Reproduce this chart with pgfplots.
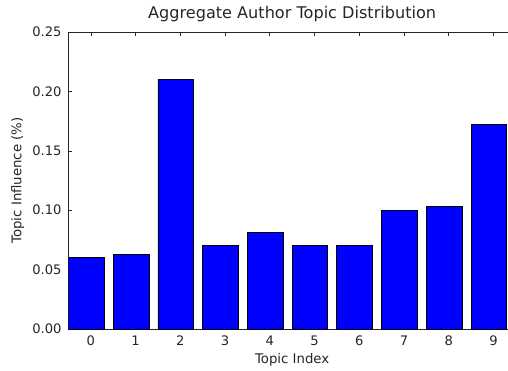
\documentclass[border=0pt]{standalone}
\usepackage{pgfplots}
\pgfplotsset{compat=1.18}
\usepackage{fontspec}
\setmainfont{DejaVu Sans}

\definecolor{barblue}{RGB}{0,0,255}

\begin{document}
\begin{tikzpicture}
\begin{axis}[
  scale only axis,
  width=447.3pt, height=297pt,
  xmin=0, xmax=10,
  ymin=0, ymax=0.25,
  xtick={0.5,1.5,2.5,3.5,4.5,5.5,6.5,7.5,8.5,9.5},
  xticklabels={0,1,2,3,4,5,6,7,8,9},
  ytick={0,0.05,0.10,0.15,0.20,0.25},
  /pgf/number format/assume math mode=true,
  yticklabel={\pgfmathprintnumber[fixed,fixed zerofill,precision=2]{\tick}},
  tick align=inside,
  major tick length=4pt,
  tick style={black!85, line width=0.6pt},
  axis line style={black!85, line width=1pt},
  ticklabel style={font=\fontsize{13.1}{15}\selectfont, text=black!85},
  yticklabel style={anchor=east, inner sep=0pt, xshift=-6.8pt},
  xticklabel style={anchor=base, inner sep=0pt, yshift=-16.7pt},
  title={Aggregate Author Topic Distribution},
  title style={at={(axis description cs:0.5,1.0236)}, anchor=base,
    inner sep=0pt, font=\fontsize{16.1}{19}\selectfont, text=black!85},
  xlabel={Topic Index},
  xlabel style={at={(axis description cs:0.5,-0.1155)}, anchor=base,
    inner sep=0pt, font=\fontsize{13.3}{15}\selectfont, text=black!85},
  ylabel={Topic Influence (\%)},
  ylabel style={at={(axis description cs:-0.1055,0.5)}, anchor=base,
    inner sep=0pt, font=\fontsize{13.3}{15}\selectfont, text=black!85},
]
% one bar per topic, spanning [i, i+0.8]
\addplot[ybar, bar width=0.8, fill=barblue, draw=black, line width=0.9pt]
  coordinates {
    (0.4,0.060) (1.4,0.063) (2.4,0.210) (3.4,0.070) (4.4,0.081)
    (5.4,0.070) (6.4,0.070) (7.4,0.100) (8.4,0.103) (9.4,0.172)
  };
\end{axis}
% the page stops just past the last bar, so the right spine falls outside it
\pgfresetboundingbox
\path[use as bounding box]
  ([shift={(-68.5pt,-41pt)}]current axis.south west)
  rectangle ([shift={(439.5pt,329pt)}]current axis.south west);
\end{tikzpicture}
\end{document}
